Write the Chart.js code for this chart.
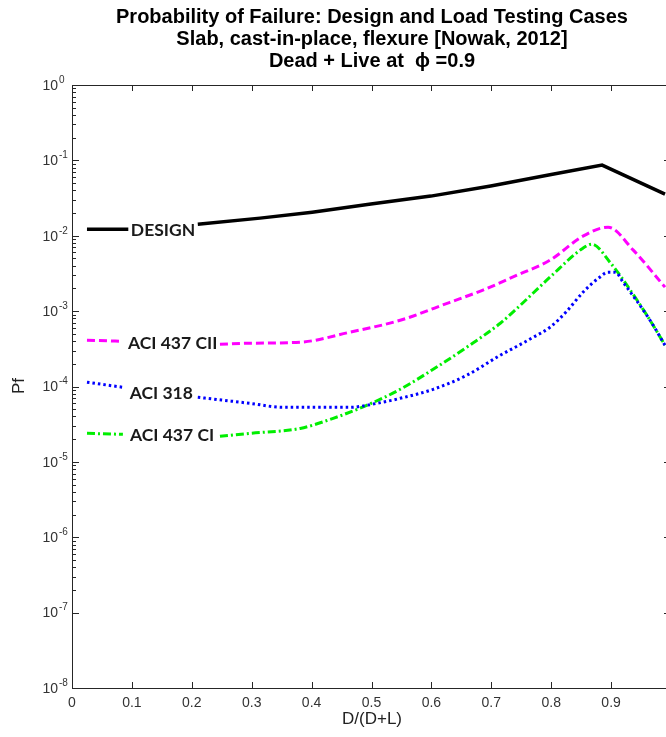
<!DOCTYPE html>
<html>
<head>
<meta charset="utf-8">
<script src="https://cdn.jsdelivr.net/npm/chart.js@4/dist/chart.umd.min.js"></script>
<style>
  html, body { margin: 0; padding: 0; background: #fff; overflow: hidden; }
  #wrap { width: 666px; height: 737px; overflow: hidden; }
  canvas { display: block; }
</style>
</head>
<body>
<div id="wrap"><canvas id="pfChart" width="673" height="737"></canvas></div>
<script>
// D/(D+L) positions and probability of failure for each case (null = gap under the label)
const designX = [0.025, 0.094, 0.15, 0.21, 0.314, 0.401, 0.499, 0.599, 0.699, 0.8, 0.885, 0.99];
const designPf = [0.01224, 0.01224, null, 0.01426, 0.01713, 0.02057, 0.0263, 0.03357, 0.0456, 0.06477, 0.08665, 0.03567];

const ciiX = [0.025, 0.085, 0.165, 0.247, 0.297, 0.381, 0.464, 0.548, 0.631, 0.686, 0.743, 0.798, 0.853, 0.895, 0.937, 0.99];
const ciiPf = [4.11e-4, 3.98e-4, null, 3.63e-4, 3.75e-4, 3.87e-4, 5.25e-4, 7.57e-4, 1.31e-3, 1.90e-3, 3.00e-3, 4.74e-3, 9.88e-3, 1.30e-2, 6.44e-3, 2.08e-3];

const aci318X = [0.025, 0.085, 0.15, 0.21, 0.297, 0.352, 0.464, 0.509, 0.548, 0.603, 0.659, 0.715, 0.743, 0.770, 0.798, 0.826, 0.853, 0.881, 0.895, 0.907, 0.92, 0.965, 0.99];
const aci318Pf = [1.14e-4, 9.76e-5, null, 7.19e-5, 5.98e-5, 5.30e-5, 5.30e-5, 5.98e-5, 6.97e-5, 9.18e-5, 1.41e-4, 2.60e-4, 3.42e-4, 4.50e-4, 6.11e-4, 9.97e-4, 1.78e-3, 2.82e-3, 3.29e-3, 3.29e-3, 2.42e-3, 7.57e-4, 3.52e-4];

const ciX = [0.025, 0.085, 0.16, 0.247, 0.297, 0.381, 0.436, 0.492, 0.548, 0.603, 0.659, 0.715, 0.743, 0.798, 0.853, 0.868, 0.898, 0.932, 0.965, 0.99];
const ciPf = [2.39e-5, 2.32e-5, null, 2.18e-5, 2.39e-5, 2.78e-5, 3.78e-5, 5.63e-5, 9.18e-5, 1.69e-4, 3.32e-4, 6.90e-4, 1.09e-3, 2.82e-3, 6.84e-3, 7.73e-3, 4.46e-3, 1.90e-3, 7.57e-4, 3.52e-4];

// axis ticks
const xTicks = [0, 0.1, 0.2, 0.3, 0.4, 0.5, 0.6, 0.7, 0.8, 0.9];
const yExponents = [0, -1, -2, -3, -4, -5, -6, -7, -8];

// inline curve labels: text and where they sit (x, Pf)
const curveLabels = ['DESIGN', 'ACI 437 CII', 'ACI 318', 'ACI 437 CI'];
const curveLabelX = [0.152, 0.168, 0.149, 0.167];
const curveLabelPf = [0.01224, 3.9e-4, 8.3e-5, 2.3e-5];

function pts(xs, ys) {
  return xs.map((x, i) => ({ x: x, y: ys[i] }));
}

const matlabAxes = {
  id: 'matlabAxes',
  afterDatasetsDraw(chart) {
    const ctx = chart.ctx;
    const area = chart.chartArea;
    const xs = chart.scales.x;
    const ys = chart.scales.y;
    ctx.save();
    ctx.strokeStyle = '#262626';
    ctx.lineWidth = 1;

    // box
    ctx.beginPath();
    ctx.moveTo(area.left + 0.5, area.top + 0.5);
    ctx.lineTo(area.right + 0.5, area.top + 0.5);
    ctx.lineTo(area.right + 0.5, area.bottom + 0.5);
    ctx.lineTo(area.left + 0.5, area.bottom + 0.5);
    ctx.closePath();
    ctx.stroke();

    // x ticks, top and bottom, pointing in
    ctx.beginPath();
    xTicks.forEach(v => {
      const px = Math.round(xs.getPixelForValue(v)) + 0.5;
      ctx.moveTo(px, area.bottom);
      ctx.lineTo(px, area.bottom - 6);
      ctx.moveTo(px, area.top);
      ctx.lineTo(px, area.top + 6);
    });
    // y ticks, major and minor, left and right
    yExponents.forEach(e => {
      for (let m = 1; m <= 9; m++) {
        if (e === -8 && m > 1) break;
        const val = m * Math.pow(10, e);
        const py = Math.round(ys.getPixelForValue(val)) + 0.5;
        if (py < area.top) continue;
        const len = m === 1 ? 7 : 4;
        ctx.moveTo(area.left, py);
        ctx.lineTo(area.left + len, py);
        ctx.moveTo(area.right, py);
        ctx.lineTo(area.right - len, py);
      }
    });
    ctx.stroke();

    // tick labels
    ctx.fillStyle = '#333';
    ctx.font = '14px "Liberation Sans", Arial, sans-serif';
    ctx.textAlign = 'center';
    ctx.textBaseline = 'middle';
    xTicks.forEach(v => {
      ctx.fillText(String(v), xs.getPixelForValue(v), area.bottom + 15);
    });
    yExponents.forEach(e => {
      const py = ys.getPixelForValue(Math.pow(10, e));
      ctx.font = '14px "Liberation Sans", Arial, sans-serif';
      ctx.textAlign = 'right';
      ctx.fillText('10', area.left - 14, py + 1);
      ctx.font = '10px "Liberation Sans", Arial, sans-serif';
      ctx.textAlign = 'left';
      ctx.fillText(String(e), area.left - 13, py - 5);
    });

    // axis titles
    ctx.font = '17px "Liberation Sans", Arial, sans-serif';
    ctx.textAlign = 'center';
    ctx.fillStyle = '#222';
    ctx.fillText('D/(D+L)', 372, 719);
    ctx.save();
    ctx.translate(19, 386);
    ctx.rotate(-Math.PI / 2);
    ctx.fillText('Pf', 0, 0);
    ctx.restore();

    // chart title
    ctx.fillStyle = '#000';
    ctx.font = 'bold 20px "Liberation Sans", Arial, sans-serif';
    ctx.fillText('Probability of Failure: Design and Load Testing Cases', 372, 17);
    ctx.fillText('Slab, cast-in-place, flexure [Nowak, 2012]', 372, 39);
    ctx.fillText('Dead + Live at  \u03D5 =0.9', 372, 61);

    // curve labels
    ctx.fillStyle = '#1a1a1a';
    ctx.font = 'bold 17.5px Lato, "Open Sans", sans-serif';
    curveLabels.forEach((t, i) => {
      ctx.fillText(t, xs.getPixelForValue(curveLabelX[i]), ys.getPixelForValue(curveLabelPf[i]) + 1);
    });
    ctx.restore();
  }
};

const ctx = document.getElementById('pfChart').getContext('2d');
new Chart(ctx, {
  type: 'line',
  data: {
    datasets: [
      {
        label: 'DESIGN',
        data: pts(designX, designPf),
        borderColor: '#000000',
        borderWidth: 3.5,
        tension: 0
      },
      {
        label: 'ACI 437 CII',
        data: pts(ciiX, ciiPf),
        borderColor: '#ff00ff',
        borderWidth: 3,
        borderDash: [8, 4],
        cubicInterpolationMode: 'monotone'
      },
      {
        label: 'ACI 318',
        data: pts(aci318X, aci318Pf),
        borderColor: '#0000ff',
        borderWidth: 3,
        borderDash: [2.5, 3],
        cubicInterpolationMode: 'monotone'
      },
      {
        label: 'ACI 437 CI',
        data: pts(ciX, ciPf),
        borderColor: '#00ee00',
        borderWidth: 3,
        borderDash: [8, 3, 2, 3],
        cubicInterpolationMode: 'monotone'
      }
    ]
  },
  options: {
    responsive: false,
    animation: false,
    devicePixelRatio: 1,
    spanGaps: false,
    layout: { padding: { left: 72, right: 2, top: 85, bottom: 49 } },
    elements: { point: { radius: 0 } },
    plugins: { legend: { display: false }, tooltip: { enabled: false } },
    scales: {
      x: { type: 'linear', min: 0, max: 1, display: false },
      y: { type: 'logarithmic', min: 1e-8, max: 1, display: false }
    }
  },
  plugins: [matlabAxes]
});
</script>
</body>
</html>
